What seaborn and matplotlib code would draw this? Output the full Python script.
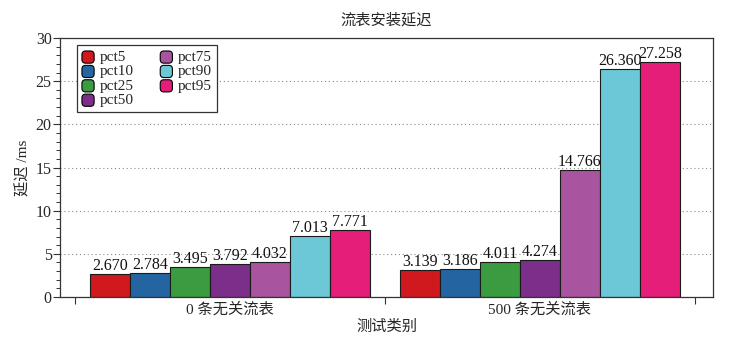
import matplotlib
matplotlib.use("Agg")
import matplotlib.pyplot as plt
from matplotlib.patches import FancyBboxPatch
from matplotlib.legend_handler import HandlerPatch
from matplotlib.ticker import MultipleLocator, FixedLocator, NullFormatter
import seaborn as sns
import pandas as pd

# Data
categories = ["0 条无关流表", "500 条无关流表"]
series = ["pct5", "pct10", "pct25", "pct50", "pct75", "pct90", "pct95"]
latency_0 = [2.670, 2.784, 3.495, 3.792, 4.032, 7.013, 7.771]
latency_500 = [3.139, 3.186, 4.011, 4.274, 14.766, 26.360, 27.258]
colors = ["#D0191F", "#2465A1", "#3A9B40", "#7B2F8B", "#A8549F", "#6CC7D7", "#E51E7A"]

rows = []
for cat, vals in zip(categories, [latency_0, latency_500]):
    for s, v in zip(series, vals):
        rows.append({"类别": cat, "分位": s, "延迟": v})
df = pd.DataFrame(rows)

sns.set_theme(style="white")
FONT = ["Liberation Serif", "Noto Sans CJK SC"]
plt.rcParams["font.family"] = FONT
plt.rcParams["axes.unicode_minus"] = False

fig = plt.figure(figsize=(7.45, 3.37), dpi=100)
ax = fig.add_axes([0.0805, 0.1187, 0.8765, 0.7685])

sns.barplot(data=df, x="类别", y="延迟", hue="分位", hue_order=series,
            order=categories, palette=colors, width=0.903, gap=0,
            edgecolor="#1a1a1a", linewidth=0.8, saturation=1, ax=ax,
            legend=True)

for cont in ax.containers:
    ax.bar_label(cont, fmt="%.3f", padding=0, fontsize=11.5, color="#111111")

ax.set_ylim(0, 30)
ax.set_xlim(-0.548, 1.558)
ax.yaxis.set_major_locator(MultipleLocator(5))
ax.yaxis.set_minor_locator(MultipleLocator(1))
ax.grid(axis="y", which="major", linestyle=(0, (1, 2.5)), color="#8a8a8a", linewidth=0.8)
ax.grid(axis="x", visible=False)
ax.set_axisbelow(True)

# Category names sit between the group boundary ticks
ax.xaxis.set_major_locator(FixedLocator([-0.5, 0.5, 1.5]))
ax.xaxis.set_major_formatter(NullFormatter())
ax.set_xticks([0, 1], labels=categories, minor=True)
ax.tick_params(axis="x", which="minor", length=0, labelsize=11, pad=4)
ax.tick_params(axis="x", which="major", length=5, width=0.8, direction="out",
               bottom=True, color="#333333")
ax.tick_params(axis="y", which="major", length=5, width=0.8, direction="out",
               left=True, labelsize=11.5, pad=1, color="#333333")
ax.tick_params(axis="y", which="minor", length=3, width=0.7, direction="out",
               left=True, color="#333333")

for sp in ax.spines.values():
    sp.set_color("#333333")
    sp.set_linewidth(0.9)

ax.set_xlabel("测试类别", fontsize=11, labelpad=2)
ax.set_ylabel("延迟 /ms", fontsize=11, labelpad=4)
ax.set_title("流表安装延迟", fontsize=11, pad=10)


class RoundSquare(HandlerPatch):
    def create_artists(self, legend, orig_handle, xdescent, ydescent,
                       width, height, fontsize, trans):
        size = min(width, height)
        p = FancyBboxPatch((-xdescent + (width - size) / 2, -ydescent - 1),
                           size, size,
                           boxstyle="round,pad=0,rounding_size=%f" % (size * 0.3),
                           facecolor=orig_handle.get_facecolor(),
                           edgecolor="black", linewidth=0.8,
                           transform=trans)
        return [p]


handles, labels = ax.get_legend_handles_labels()
leg = ax.legend(handles, labels, loc="upper left", bbox_to_anchor=(0.026, 0.973),
                ncol=2, fontsize=11, frameon=True, fancybox=False,
                handlelength=0.85, handleheight=0.85, handletextpad=0.35,
                labelspacing=0.0, columnspacing=1.7, borderpad=0.3,
                borderaxespad=0,
                handler_map={h: RoundSquare() for h in handles})
leg.get_frame().set_edgecolor("#333333")
leg.get_frame().set_linewidth(0.9)
leg.get_frame().set_alpha(1)

fig.savefig("out.png", dpi=100)
